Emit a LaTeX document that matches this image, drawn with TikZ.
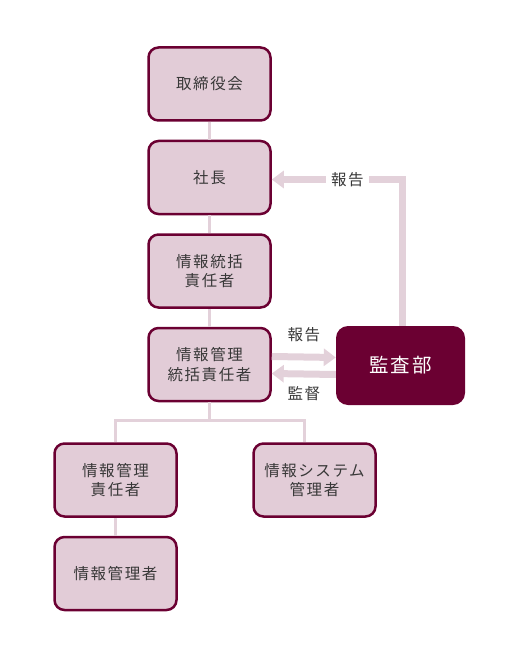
\documentclass[tikz,border=0pt]{standalone}
\usepackage{fontspec}
\setmainfont{Noto Sans CJK JP}[LetterSpace=10]
\usetikzlibrary{positioning}
\usetikzlibrary{arrows.meta}
\definecolor{wine}{HTML}{6B0032}
\definecolor{rose}{HTML}{E2CCD7}
\definecolor{pale}{HTML}{E3D1DA}
\definecolor{ink}{HTML}{383838}
\tikzset{
    post/.style={draw=wine, line width=2.5pt, fill=rose, rounded corners=10pt,
        minimum width=122pt, minimum height=73pt, align=center, text=ink,
        font=\fontsize{15.5}{19.5}\selectfont},
    audit/.style={fill=wine, rounded corners=12pt, minimum width=129pt,
        minimum height=79pt, text=white, font=\fontsize{19.5}{23}\selectfont}
}
\tikzset{
    link/.style={pale, line width=3pt},
    flow/.style={pale, line width=7pt, -{Triangle[width=17pt,length=12pt]}},
    flowlabel/.style={text=ink, font=\fontsize{15.5}{19.5}\selectfont}
}

\begin{document}
\begin{tikzpicture}[x=1pt,y=-1pt]
        \useasboundingbox (0,0) rectangle (518,660);
        % main column
        \node[post] (board) at (209.5,84) {取締役会};
        \node[post, below=18pt of board] (president) {社長};
        \node[post, below=18pt of president] (ciso) {情報統括\\責任者};
        \node[post, below=18pt of ciso] (mgrhead) {情報管理\\統括責任者};
        \node[audit] (audit) at (400.5,365.5) {監査部};
        % lower branch
        \node[post] (infomgr) at (115.5,480) {情報管理\\責任者};
        \node[post] (sysmgr) at (314.5,480) {情報システム\\管理者};
        \node[post, below=18pt of infomgr] (staff) {情報管理者};
        \draw[link] (board) -- (president);
        \draw[link] (president) -- (ciso);
        \draw[link] (ciso) -- (mgrhead);
        \draw[link] (mgrhead.south) -- ++(0,18) coordinate (fork);
        \draw[link] (infomgr.north) |- (fork) -| ([xshift=-10pt]sysmgr.north);
        \draw[link] (infomgr) -- (staff);
        % reporting lines
        \draw[flow] ([xshift=1.5pt]audit.north) |- ([yshift=-2pt]president.east)
            node[flowlabel, fill=white, inner xsep=5pt, inner ysep=2pt, pos=0.71] (reportup) {報告};
        \draw[flow] ([yshift=8pt]mgrhead.east) -- ([yshift=8pt]audit.west)
            node[flowlabel, midway, above=8pt] (reportside) {報告};
        \draw[flow] ([yshift=-9pt]audit.west) -- ([yshift=-9pt]mgrhead.east)
            node[flowlabel, midway, below=6pt] (oversee) {監督};
\end{tikzpicture}
\end{document}
